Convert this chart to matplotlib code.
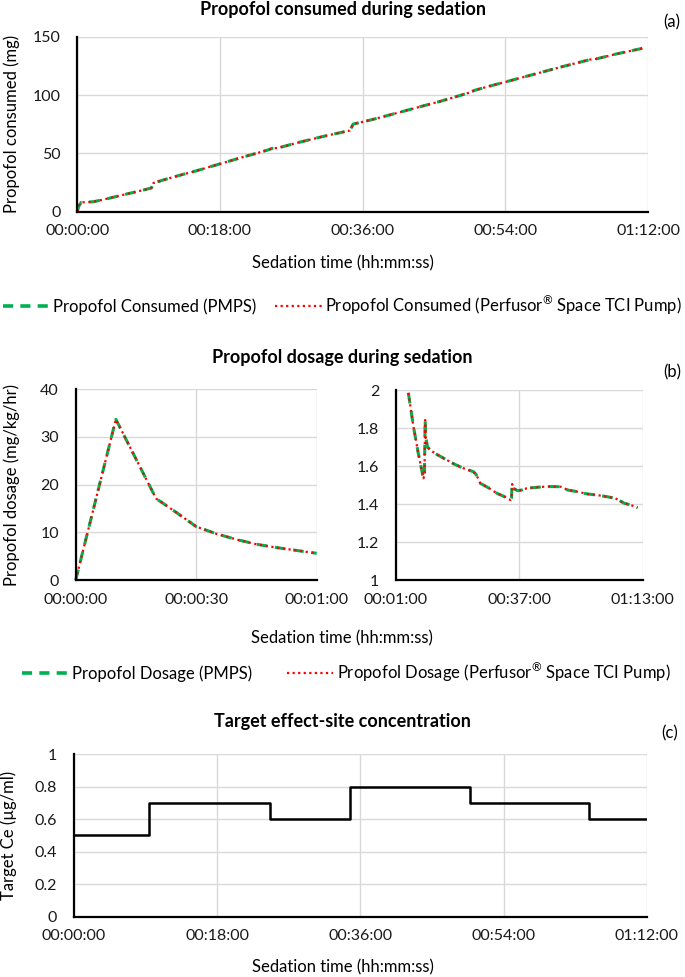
import matplotlib
matplotlib.use("Agg")
import matplotlib.pyplot as plt
import matplotlib.transforms as mtransforms
from matplotlib.ticker import FuncFormatter, MultipleLocator, FixedLocator
from matplotlib.lines import Line2D

plt.rcParams['font.family'] = ['Lato', 'DejaVu Sans']
plt.rcParams['mathtext.fontset'] = 'custom'
plt.rcParams['mathtext.rm'] = 'Lato'

# ---------------- data ----------------
# (a) propofol consumed (mg) vs time (min)
consumed_time_min = [0, 0.2, 0.5, 2, 4, 6, 8, 9.35, 9.6, 12, 15, 18, 21, 24, 24.6,
                     25.3, 28, 31, 34.4, 34.8, 37, 40, 43, 46, 49.6, 50.1, 52, 55,
                     58, 61, 64.7, 65.5, 68, 71.5]
consumed_pmps = [0, 5, 8, 8.5, 11.5, 14.8, 18, 20.3, 24.6, 29.5, 35, 41, 47, 52.8,
                 54.3, 54.6, 59.5, 64.5, 69.6, 75.1, 78.6, 84, 89.5, 95, 102.3,
                 104, 107.6, 113, 118.5, 124, 130.4, 131, 135.2, 140.3]
consumed_pump = [0, 5, 8, 8.5, 11.5, 14.8, 18, 20.3, 24.6, 29.5, 35, 41, 47, 52.8,
                 54.3, 54.6, 59.5, 64.5, 69.6, 75.1, 78.6, 84, 89.5, 95, 102.3,
                 104, 107.6, 113, 118.5, 124, 130.4, 131, 135.2, 140.3]

# (b-left) dosage in first minute, time in seconds
dose_fast_time_s = [0, 10, 20, 25, 30, 35, 40, 45, 50, 55, 60]
dose_fast_pmps = [0, 33.7, 17.1, 14.2, 11.2, 9.7, 8.5, 7.5, 6.8, 6.2, 5.6]
dose_fast_pump = [0, 33.7, 17.1, 14.2, 11.2, 9.7, 8.5, 7.5, 6.8, 6.2, 5.6]

# (b-right) dosage after first minute, time in minutes
dose_slow_time_min = [4.6, 6.1, 7.5, 8.6, 9.0, 9.3, 9.5, 9.7, 10.2, 11, 13, 15.8, 18,
                      20.7, 23.6, 24.4, 25.6, 28, 30.5, 32.5, 34.4, 34.7, 34.9, 35.3,
                      36.5, 37.8, 39.2, 42.2, 45, 49, 50, 51, 53.9, 56.8, 59.7, 62.7,
                      65, 67.6, 69.5, 71.5]
dose_slow_pmps = [1.985, 1.807, 1.667, 1.57, 1.535, 1.55, 1.842, 1.75, 1.70, 1.684,
                  1.66, 1.632, 1.61, 1.588, 1.57, 1.555, 1.509, 1.485, 1.456, 1.44,
                  1.421, 1.43, 1.505, 1.482, 1.47, 1.474, 1.483, 1.488, 1.492, 1.491,
                  1.485, 1.474, 1.465, 1.453, 1.447, 1.438, 1.43, 1.404, 1.395, 1.381]
dose_slow_pump = [1.985, 1.807, 1.667, 1.57, 1.535, 1.55, 1.842, 1.75, 1.70, 1.684,
                  1.66, 1.632, 1.61, 1.588, 1.57, 1.555, 1.509, 1.485, 1.456, 1.44,
                  1.421, 1.43, 1.505, 1.482, 1.47, 1.474, 1.483, 1.488, 1.492, 1.491,
                  1.485, 1.474, 1.465, 1.453, 1.447, 1.438, 1.43, 1.404, 1.395, 1.381]

# (c) target effect-site concentration (ug/ml), step changes
ce_time_min = [0, 9.4, 24.6, 34.7, 49.8, 64.8, 71.9]
ce_target = [0.5, 0.7, 0.6, 0.8, 0.7, 0.6, 0.6]

GREEN = '#00B050'
RED = '#FF0000'
GRID = '#D9D9D9'
FS = 12
TFS = 11.5
TITLE_FS = 13


def hms_from_min(v, pos=None):
    s = int(round(v * 60))
    return f"{s // 3600:02d}:{(s % 3600) // 60:02d}:{s % 60:02d}"


def hms_from_sec(v, pos=None):
    s = int(round(v))
    return f"{s // 3600:02d}:{(s % 3600) // 60:02d}:{s % 60:02d}"


def num_fmt(v, pos=None):
    return f"{v:g}"


fig = plt.figure(figsize=(6.85, 9.77), dpi=100)
W, H = 685.0, 977.0


def add_ax(x0, x1, y0, y1):
    return fig.add_axes([x0 / W, 1 - y1 / H, (x1 - x0) / W, (y1 - y0) / H])


def style(ax):
    for s in ['top', 'right']:
        ax.spines[s].set_visible(False)
    for s in ['left', 'bottom']:
        ax.spines[s].set_color('black')
        ax.spines[s].set_linewidth(1.6)
        ax.spines[s].set_zorder(5)
    ax.grid(True, color=GRID, linewidth=1.0)
    ax.set_axisbelow(True)
    ax.tick_params(axis='both', length=0, labelsize=TFS, colors='#1a1a1a')
    ax.tick_params(axis='y', pad=12)
    ax.tick_params(axis='x', pad=9)
    ax.yaxis.set_major_formatter(FuncFormatter(num_fmt))


def set_ylab(ax, text, xpix):
    ax.set_ylabel(text, fontsize=FS, va='center')
    tr = mtransforms.blended_transform_factory(fig.transFigure, ax.transAxes)
    ax.yaxis.set_label_coords(xpix / W, 0.5, transform=tr)


def plot_pair(ax, x, y1, y2):
    ax.plot(x, y1, color=GREEN, lw=2.2, dashes=(3.5, 2.5), clip_on=False, zorder=3)
    ax.plot(x, y2, color=RED, lw=1.6, dashes=(1.0, 1.6), clip_on=False, zorder=4)


# ---- (a) ----
axa = add_ax(77.3, 648, 36.7, 211.7)
style(axa)
plot_pair(axa, consumed_time_min, consumed_pmps, consumed_pump)
axa.set_xlim(0, 72)
axa.set_ylim(0, 150)
axa.xaxis.set_major_locator(MultipleLocator(18))
axa.yaxis.set_major_locator(MultipleLocator(50))
axa.xaxis.set_major_formatter(FuncFormatter(hms_from_min))
set_ylab(axa, 'Propofol consumed (mg)', 12)
fig.text(0.5, 1 - 9 / H, 'Propofol consumed during sedation', ha='center', va='center',
         fontsize=TITLE_FS, fontweight='bold')
fig.text(672 / W, 1 - 22 / H, '(a)', ha='center', va='center', fontsize=FS)
fig.text(0.5, 1 - 263 / H, 'Sedation time (hh:mm:ss)', ha='center', va='center', fontsize=FS)

# ---- (b) ----
axb1 = add_ax(75.7, 316.7, 389.3, 580)
style(axb1)
plot_pair(axb1, dose_fast_time_s, dose_fast_pmps, dose_fast_pump)
axb1.set_xlim(0, 60)
axb1.set_ylim(0, 40)
axb1.xaxis.set_major_locator(MultipleLocator(30))
axb1.yaxis.set_major_locator(MultipleLocator(10))
axb1.xaxis.set_major_formatter(FuncFormatter(hms_from_sec))
set_ylab(axb1, 'Propofol dosage (mg/kg/hr)', 12)

axb2 = add_ax(396, 642.7, 390, 580)
style(axb2)
plot_pair(axb2, dose_slow_time_min, dose_slow_pmps, dose_slow_pump)
axb2.set_xlim(1, 73)
axb2.set_ylim(1, 2)
axb2.xaxis.set_major_locator(FixedLocator([1, 37, 73]))
axb2.yaxis.set_major_locator(MultipleLocator(0.2))
axb2.xaxis.set_major_formatter(FuncFormatter(hms_from_min))

fig.text(0.5, 1 - 357 / H, 'Propofol dosage during sedation', ha='center', va='center',
         fontsize=TITLE_FS, fontweight='bold')
fig.text(672 / W, 1 - 372 / H, '(b)', ha='center', va='center', fontsize=FS)
fig.text(342 / W, 1 - 638 / H, 'Sedation time (hh:mm:ss)', ha='center', va='center', fontsize=FS)

# ---- (c) ----
axc = add_ax(74, 646.7, 754, 916.7)
style(axc)
axc.plot(ce_time_min, ce_target, color='black', lw=1.8, drawstyle='steps-post', zorder=3)
axc.set_xlim(0, 72)
axc.set_ylim(0, 1)
axc.xaxis.set_major_locator(MultipleLocator(18))
axc.yaxis.set_major_locator(MultipleLocator(0.2))
axc.xaxis.set_major_formatter(FuncFormatter(hms_from_min))
set_ylab(axc, 'Target Ce (\u00b5g/ml)', 9)
fig.text(0.5, 1 - 721 / H, 'Target effect-site concentration', ha='center', va='center',
         fontsize=TITLE_FS, fontweight='bold')
fig.text(670 / W, 1 - 733 / H, '(c)', ha='center', va='center', fontsize=FS)
fig.text(0.5, 1 - 967 / H, 'Sedation time (hh:mm:ss)', ha='center', va='center', fontsize=FS)

# ---- legends ----
def make_handles():
    h1 = Line2D([], [], color=GREEN, lw=2.6, dashes=(2.8, 2.0))
    h2 = Line2D([], [], color=RED, lw=1.6, dashes=(1.0, 1.5))
    return h1, h2

h1, h2 = make_handles()
fig.legend([h1, h2], ['Propofol Consumed (PMPS)',
                      'Propofol Consumed (Perfusor$^{\u00ae}$ Space TCI Pump)'],
           loc='center', bbox_to_anchor=(0.5, 1 - 305 / H), ncol=2, frameon=False,
           fontsize=FS, handlelength=2.8, handletextpad=0.2, columnspacing=1.1,
           borderpad=0, borderaxespad=0)
h1, h2 = make_handles()
fig.legend([h1, h2], ['Propofol Dosage (PMPS)',
                      'Propofol Dosage (Perfusor$^{\u00ae}$ Space TCI Pump)'],
           loc='center', bbox_to_anchor=(346 / W, 1 - 672 / H), ncol=2, frameon=False,
           fontsize=FS, handlelength=2.8, handletextpad=0.2, columnspacing=2.1,
           borderpad=0, borderaxespad=0)

fig.savefig('out.png', dpi=100)
